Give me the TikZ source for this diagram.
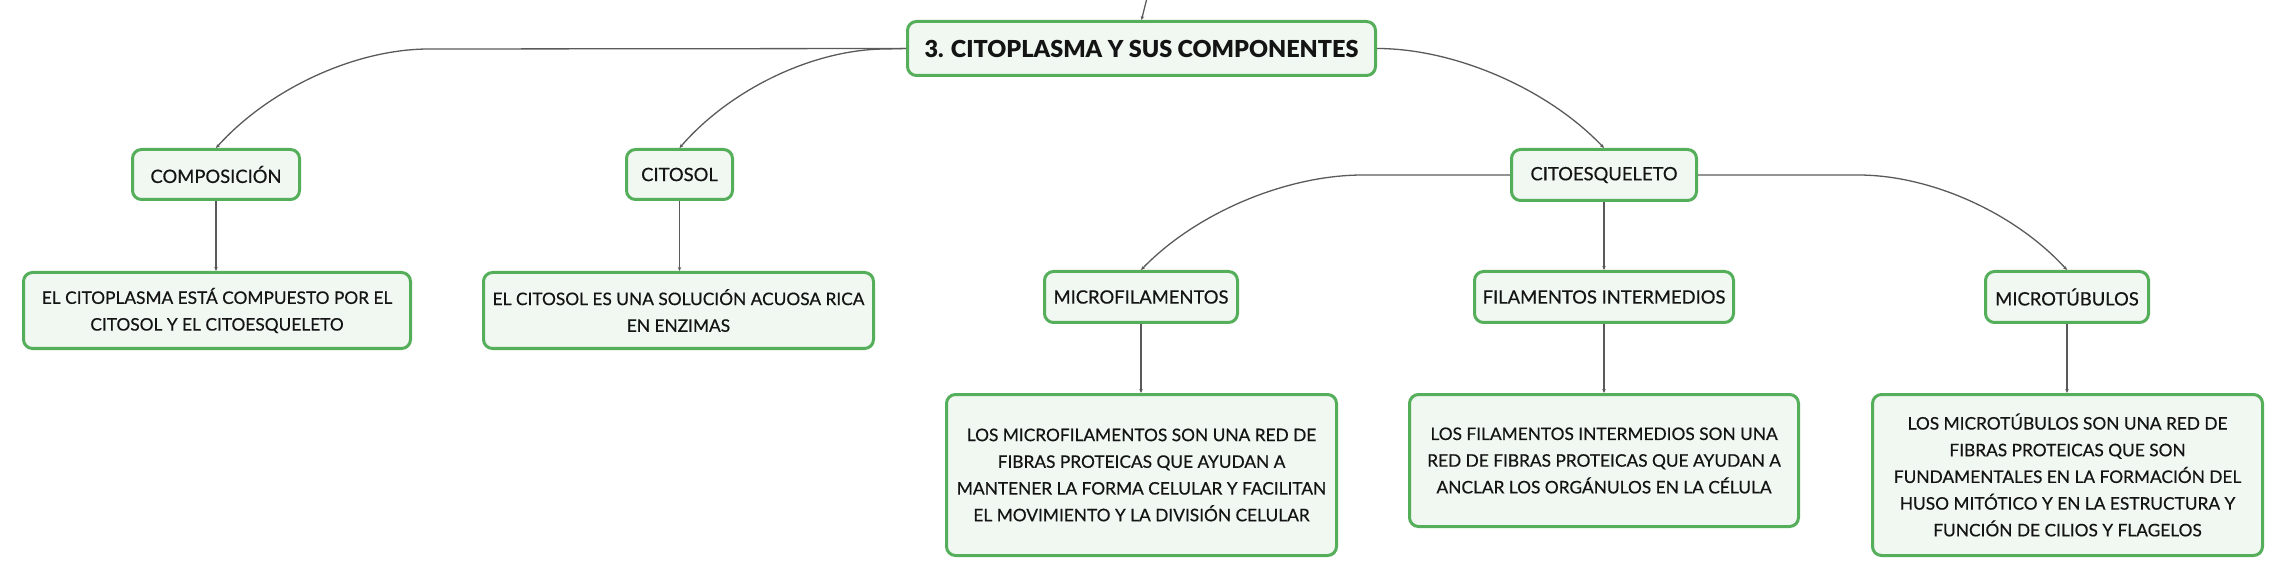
\documentclass[tikz,border=0pt]{standalone}
\usepackage{fontspec}
\setmainfont{Lato}
\newfontfamily\rootfont{Lato Black}
\newfontfamily\medfont{Lato}[FakeBold=0.5]
\usetikzlibrary{arrows.meta}
\definecolor{bordergreen}{HTML}{55AE5A}
\definecolor{fillgreen}{HTML}{F1F8F2}
\definecolor{linegray}{HTML}{5A5A5A}
\begin{document}
\begin{tikzpicture}[x=1pt,y=-1pt,
 box/.style={draw=bordergreen, line width=3pt, fill=fillgreen, rounded corners=9pt, align=center, inner sep=0pt, text=black!92},
 rootbox/.style={box, font=\rootfont\fontsize{23.4}{28}\selectfont},
 topicbox/.style={box, font=\medfont\fontsize{18.4}{23}\selectfont},
 textbox/.style={box, font=\medfont\fontsize{17.3}{26.7}\selectfont},
 conn/.style={draw=linegray, line width=1.3pt, -{Stealth[length=4pt,width=3.5pt]}},
]
\useasboundingbox (0,0) rectangle (2284,577);
\node[rootbox, minimum width=468, minimum height=54] (root) at (1141.5,48.5) {3. CITOPLASMA Y SUS COMPONENTES};
\node[topicbox, minimum width=167, minimum height=50] (comp) at (216,174.5) {COMPOSICIÓN};
\node[topicbox, minimum width=106, minimum height=50] (citosol) at (679.5,174.5) {CITOSOL};
\node[topicbox, minimum width=185, minimum height=51] (citoesq) at (1604,175) {CITOESQUELETO};
\node[textbox, minimum width=387, minimum height=76] (compt) at (217,310.5) {EL CITOPLASMA ESTÁ COMPUESTO POR EL\\CITOSOL Y EL CITOESQUELETO};
\node[textbox, minimum width=390, minimum height=76] (citosolt) at (678.5,310.5) {EL CITOSOL ES UNA SOLUCIÓN ACUOSA RICA\\EN ENZIMAS};
\node[topicbox, minimum width=193, minimum height=51] (mf) at (1141,297) {MICROFILAMENTOS};
\node[topicbox, minimum width=259, minimum height=51] (fi) at (1604,297) {FILAMENTOS INTERMEDIOS};
\node[topicbox, minimum width=163, minimum height=51] (mt) at (2067,297) {MICROTÚBULOS};
\node[textbox, minimum width=390, minimum height=161] (mft) at (1141.5,475) {LOS MICROFILAMENTOS SON UNA RED DE\\FIBRAS PROTEICAS QUE AYUDAN A\\MANTENER LA FORMA CELULAR Y FACILITAN\\EL MOVIMIENTO Y LA DIVISIÓN CELULAR};
\node[textbox, minimum width=389, minimum height=132] (fit) at (1604,460.5) {LOS FILAMENTOS INTERMEDIOS SON UNA\\RED DE FIBRAS PROTEICAS QUE AYUDAN A\\ANCLAR LOS ORGÁNULOS EN LA CÉLULA};
\node[textbox, minimum width=390, minimum height=161] (mtt) at (2067.5,475) {LOS MICROTÚBULOS SON UNA RED DE\\FIBRAS PROTEICAS QUE SON\\FUNDAMENTALES EN LA FORMACIÓN DEL\\HUSO MITÓTICO Y EN LA ESTRUCTURA Y\\FUNCIÓN DE CILIOS Y FLAGELOS};
\coordinate (topin) at (1147,-2);
\draw[conn] (topin) -- (root.north);
\draw[conn] (root.west) -- (429,49) .. controls +(-74,0) and +(53,-59) .. (comp.north);
\draw[conn] (root.west) -- (886,49) .. controls +(-72,0) and +(51,-59) .. (citosol.north);
\draw[conn] (root.east) .. controls +(78,0) and +(-56,-59) .. (citoesq.north);
\draw[conn] (comp.south) -- (comp.south |- compt.north);
\draw[conn] (citosol.south) -- (citosol.south |- citosolt.north);
\draw[conn] (citoesq.west) -- (1363,175) .. controls +(-77,0) and +(55,-57) .. (mf.north);
\draw[conn] (citoesq.south) -- (fi.north);
\draw[conn] (citoesq.east) -- (1858,175) .. controls +(73,0) and +(-52,-57) .. (mt.north);
\draw[conn] (mf.south) -- (mf.south |- mft.north);
\draw[conn] (fi.south) -- (fi.south |- fit.north);
\draw[conn] (mt.south) -- (mt.south |- mtt.north);
\end{tikzpicture}
\end{document}
